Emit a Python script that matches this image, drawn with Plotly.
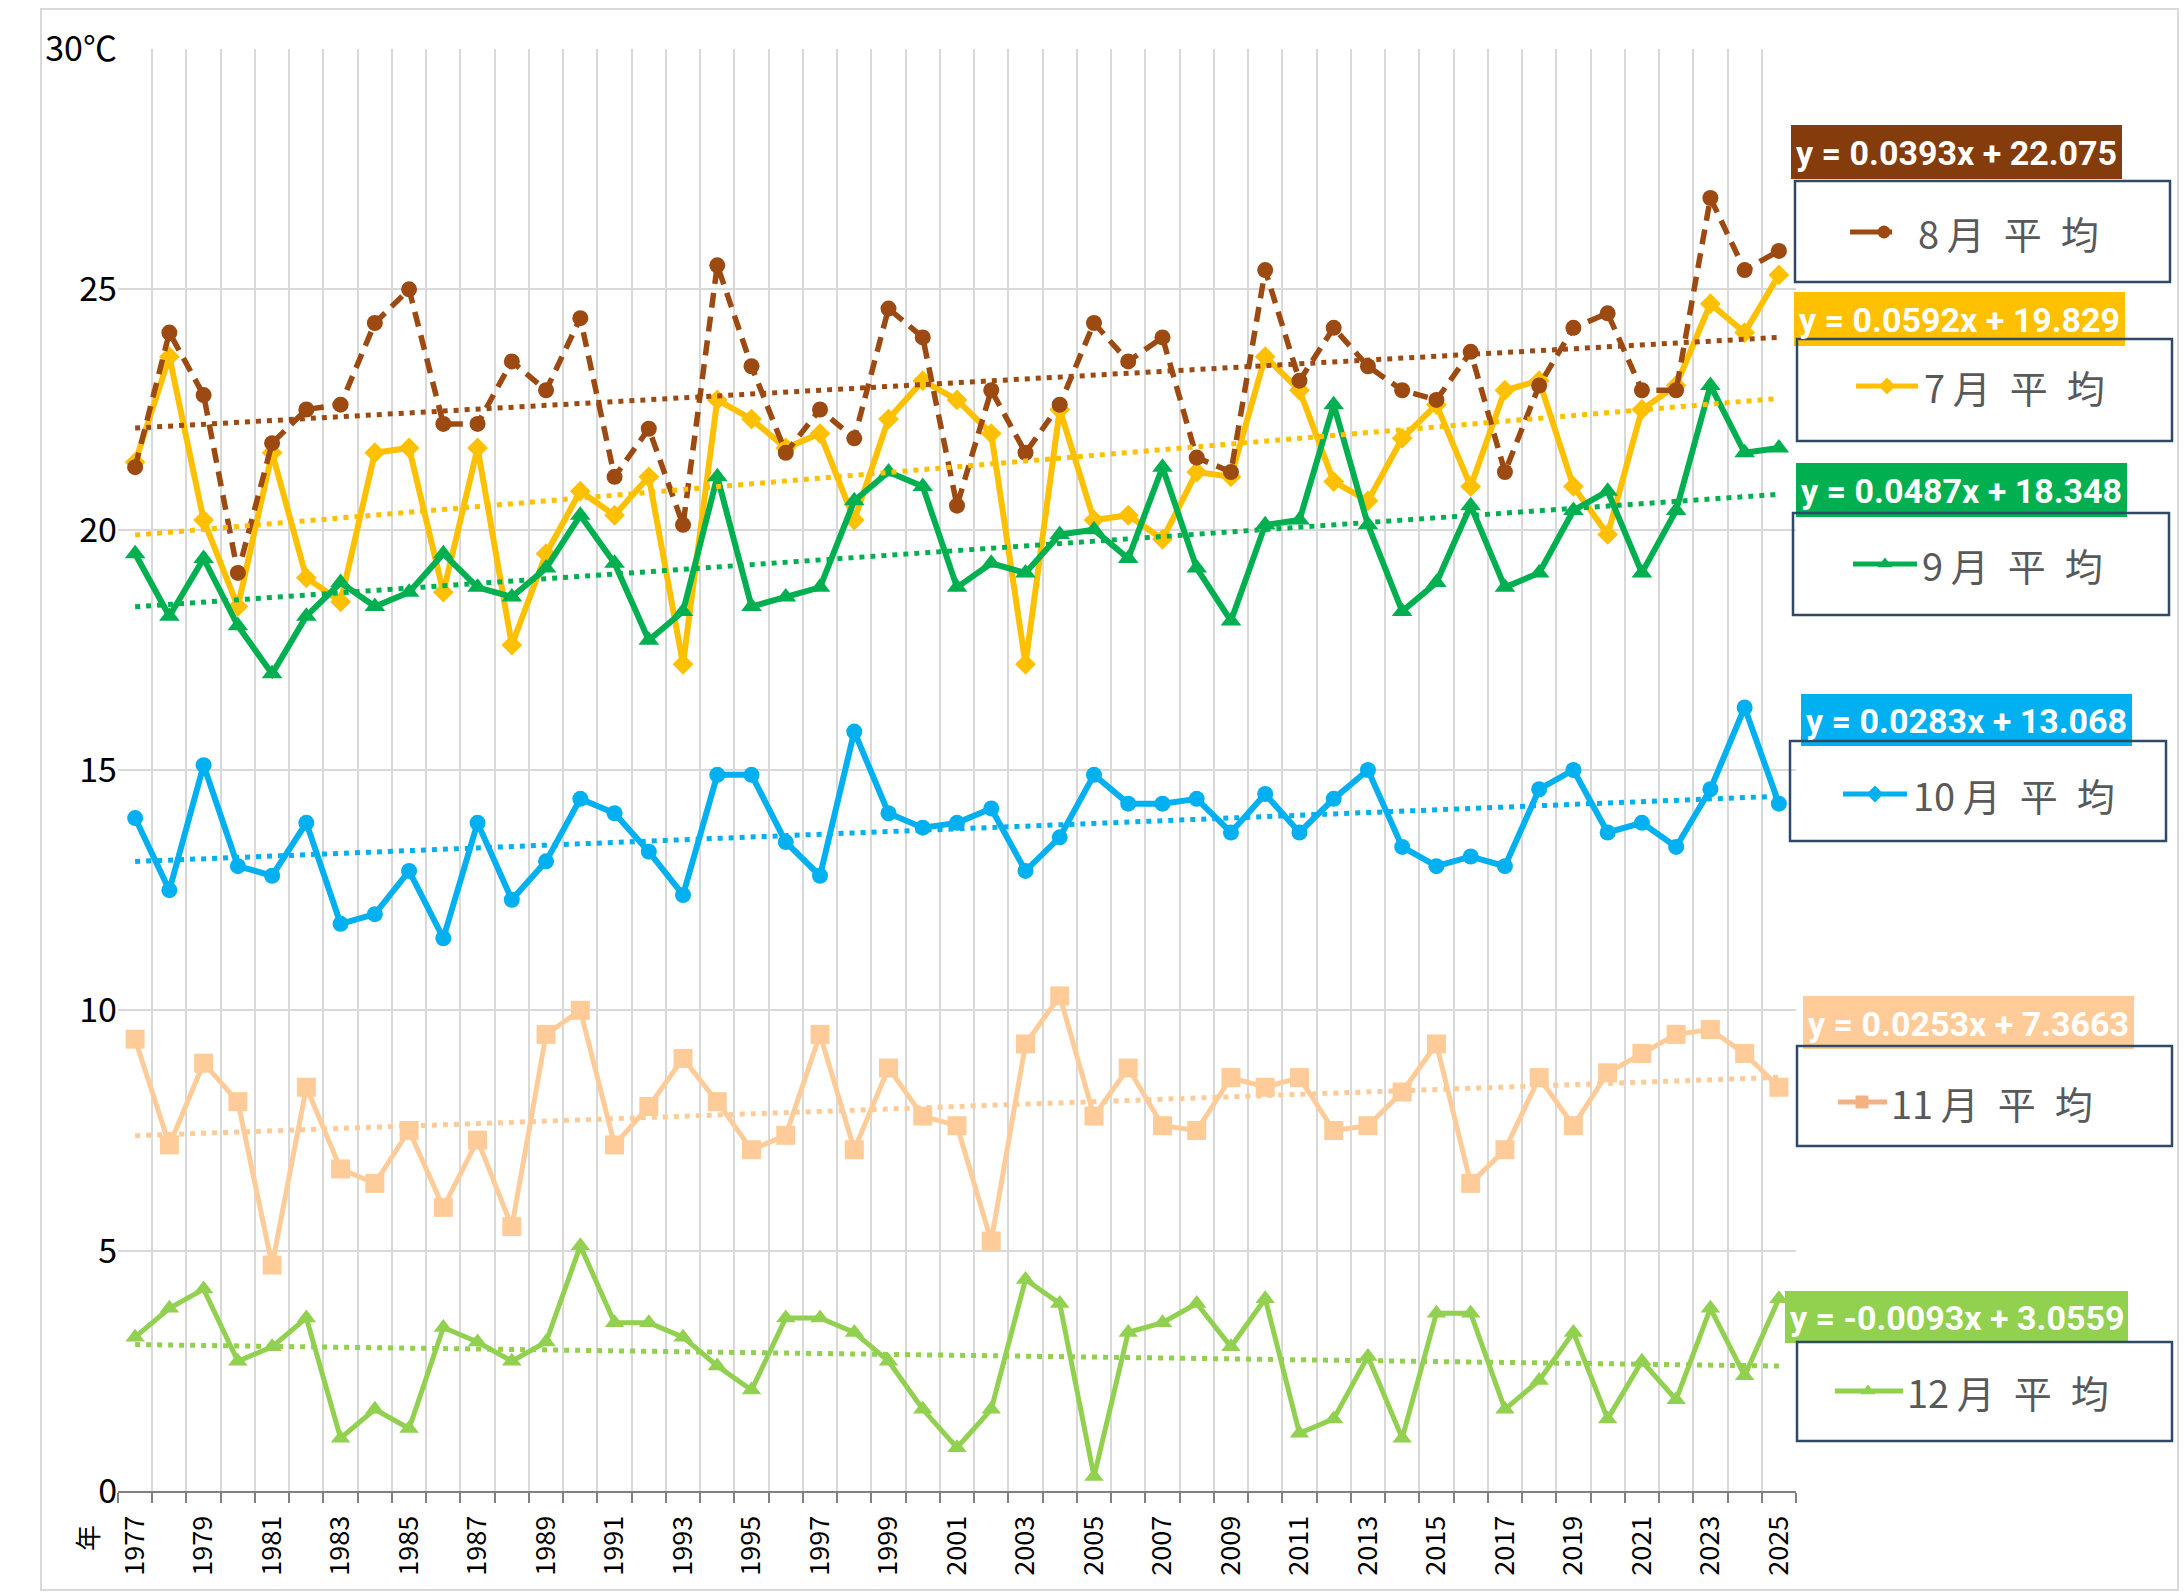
import plotly.graph_objects as go

W, H = 2183, 1596

# ---------------- data ----------------
years = list(range(1977, 2026))
year_labels = [str(y) for y in range(1977, 2026, 2)]

aug = [21.3, 24.1, 22.8, 19.1, 21.8, 22.5, 22.6, 24.3, 25.0, 22.2, 22.2, 23.5, 22.9, 24.4, 21.1, 22.1, 20.1, 25.5,
       23.4, 21.6, 22.5, 21.9, 24.6, 24.0, 20.5, 22.9, 21.6, 22.6, 24.3, 23.5, 24.0, 21.5, 21.2, 25.4, 23.1,
       24.2, 23.4, 22.9, 22.7, 23.7, 21.2, 23.0, 24.2, 24.5, 22.9, 22.9, 26.9, 25.4, 25.8]
jul = [21.4, 23.6, 20.2, 18.4, 21.6, 19.0, 18.5, 21.6, 21.7, 18.7, 21.7, 17.6, 19.5, 20.8, 20.3, 21.1, 17.2, 22.7,
       22.3, 21.7, 22.0, 20.2, 22.3, 23.1, 22.7, 22.0, 17.2, 22.5, 20.2, 20.3, 19.8, 21.2, 21.1, 23.6, 22.9,
       21.0, 20.6, 21.9, 22.6, 20.9, 22.9, 23.1, 20.9, 19.9, 22.5, 23.0, 24.7, 24.1, 25.3]
sep = [19.5, 18.2, 19.4, 18.0, 17.0, 18.2, 18.9, 18.4, 18.7, 19.5, 18.8, 18.6, 19.2, 20.3, 19.3, 17.7, 18.3, 21.1,
       18.4, 18.6, 18.8, 20.6, 21.2, 20.9, 18.8, 19.3, 19.1, 19.9, 20.0, 19.4, 21.3, 19.2, 18.1, 20.1, 20.2,
       22.6, 20.1, 18.3, 18.9, 20.5, 18.8, 19.1, 20.4, 20.8, 19.1, 20.4, 23.0, 21.6, 21.7]
oct_ = [14.0, 12.5, 15.1, 13.0, 12.8, 13.9, 11.8, 12.0, 12.9, 11.5, 13.9, 12.3, 13.1, 14.4, 14.1, 13.3, 12.4, 14.9,
        14.9, 13.5, 12.8, 15.8, 14.1, 13.8, 13.9, 14.2, 12.9, 13.6, 14.9, 14.3, 14.3, 14.4, 13.7, 14.5, 13.7,
        14.4, 15.0, 13.4, 13.0, 13.2, 13.0, 14.6, 15.0, 13.7, 13.9, 13.4, 14.6, 16.3, 14.3]
nov = [9.4, 7.2, 8.9, 8.1, 4.7, 8.4, 6.7, 6.4, 7.5, 5.9, 7.3, 5.5, 9.5, 10.0, 7.2, 8.0, 9.0, 8.1,
       7.1, 7.4, 9.5, 7.1, 8.8, 7.8, 7.6, 5.2, 9.3, 10.3, 7.8, 8.8, 7.6, 7.5, 8.6, 8.4, 8.6,
       7.5, 7.6, 8.3, 9.3, 6.4, 7.1, 8.6, 7.6, 8.7, 9.1, 9.5, 9.6, 9.1, 8.4]
dec = [3.2, 3.8, 4.2, 2.7, 3.0, 3.6, 1.1, 1.7, 1.3, 3.4, 3.1, 2.7, 3.1, 5.1, 3.5, 3.5, 3.2, 2.6,
       2.1, 3.6, 3.6, 3.3, 2.7, 1.7, 0.9, 1.7, 4.4, 3.9, 0.3, 3.3, 3.5, 3.9, 3.0, 4.0, 1.2,
       1.5, 2.8, 1.1, 3.7, 3.7, 1.7, 2.3, 3.3, 1.5, 2.7, 1.9, 3.8, 2.4, 4.0]

series_names = ["8月平均", "7月平均", "9月平均", "10月平均", "11月平均", "12月平均"]
trend_slopes = [0.0393, 0.0592, 0.0487, 0.0283, 0.0253, -0.0093]
trend_intercepts = [22.075, 19.829, 18.348, 13.068, 7.3663, 3.0559]
trend_labels = ["y = 0.0393x + 22.075", "y = 0.0592x + 19.829", "y = 0.0487x + 18.348",
                "y = 0.0283x + 13.068", "y = 0.0253x + 7.3663", "y = -0.0093x + 3.0559"]

y_tickvals = [0, 5, 10, 15, 20, 25, 30]
y_ticktext = ["0", "5", "10", "15", "20", "25", "30℃"]

# ---------------- styles ----------------
values = [aug, jul, sep, oct_, nov, dec]
colors = ["#9C4A12", "#FFC000", "#00B050", "#00B0F0", "#FFCC99", "#92D050"]
symbols = ["circle", "diamond", "triangle-up", "circle", "square", "triangle-up"]
msizes = [16, 16, 18, 16, 19, 17]
lwidths = [5.5, 6, 6, 6, 5, 5]
dashes = ["15px,9px", "solid", "solid", "solid", "solid", "solid"]
eq_bg = ["#843C0C", "#FFC000", "#00B050", "#00B0F0", "#FFCC99", "#92D050"]
legend_marker_colors = ["#9C4A12", "#FFC000", "#00B050", "#00B0F0", "#F4B183", "#92D050"]

fig = go.Figure()

draw_order = [1, 2, 0, 3, 4, 5]
for i in draw_order:
    fig.add_trace(go.Scatter(
        x=years, y=values[i], mode="lines+markers", name=series_names[i],
        line=dict(color=colors[i], width=lwidths[i], dash=dashes[i]),
        marker=dict(symbol=symbols[i], size=msizes[i], color=colors[i], line=dict(width=0)),
        showlegend=False, xaxis="x", yaxis="y"))

for i in draw_order:
    tx = [years[0], years[-1]]
    ty = [trend_slopes[i] * (t - years[0] + 1) + trend_intercepts[i] for t in tx]
    fig.add_trace(go.Scatter(
        x=tx, y=ty, mode="lines", line=dict(color=colors[i], width=5, dash="5px,6px"),
        showlegend=False, hoverinfo="skip", xaxis="x", yaxis="y"))

# ---------------- custom legend (pixel coordinates on overlay axes) ----------------
eq_boxes = [(1791, 125, 2122, 179), (1794, 292, 2125, 346), (1796, 463, 2127, 517),
            (1801, 694, 2132, 746), (1803, 996, 2134, 1049), (1785, 1291, 2128, 1343)]
leg_boxes = [(1795, 181, 2170, 282), (1797, 339, 2172, 441), (1793, 513, 2169, 615),
             (1790, 741, 2166, 841), (1797, 1046, 2172, 1146), (1797, 1342, 2172, 1441)]
leg_lines = [(1850, 1892, 1884, 232), (1856, 1918, 1887, 386), (1853, 1917, 1885, 564),
             (1843, 1907, 1875, 794), (1838, 1887, 1862, 1102), (1835, 1903, 1868, 1391)]
leg_text_x = [1916, 1922, 1920, 1911, 1889, 1905]
leg_text = ["8\u2009月\u2002平\u2002均", "7\u2009月\u2002平\u2002均", "9\u2009月\u2002平\u2002均",
            "10\u2009月\u2002平\u2002均", "11\u2009月\u2002平\u2002均", "12\u2009月\u2002平\u2002均"]
leg_symbols = ["circle", "diamond", "triangle-up", "diamond", "square", "triangle-up"]

shapes = []
annotations = []
# outer chart border
shapes.append(dict(type="rect", xref="x2", yref="y2", x0=41, y0=9, x1=2178, y1=1590,
                   line=dict(color="#D9D9D9", width=2), fillcolor="rgba(0,0,0,0)", layer="below"))

for i in range(6):
    x0, y0, x1, y1 = eq_boxes[i]
    shapes.append(dict(type="rect", xref="x2", yref="y2", x0=x0, y0=y0, x1=x1, y1=y1,
                       line=dict(width=0), fillcolor=eq_bg[i], layer="above"))
    annotations.append(dict(xref="x2", yref="y2", x=(x0 + x1) / 2, y=(y0 + y1) / 2 + 1,
                            text="<b>" + trend_labels[i] + "</b>", showarrow=False,
                            font=dict(family="Roboto", size=34, color="white"),
                            xanchor="center", yanchor="middle"))
for i in range(6):
    x0, y0, x1, y1 = leg_boxes[i]
    shapes.append(dict(type="rect", xref="x2", yref="y2", x0=x0, y0=y0, x1=x1, y1=y1,
                       line=dict(color="#2E4A66", width=2.5), fillcolor="rgba(0,0,0,0)", layer="above"))
    lx0, lx1, lxm, ly = leg_lines[i]
    shapes.append(dict(type="line", xref="x2", yref="y2", x0=lx0, y0=ly, x1=lx1, y1=ly,
                       line=dict(color=legend_marker_colors[i], width=5), layer="above"))
    annotations.append(dict(xref="x2", yref="y2", x=leg_text_x[i], y=ly, text=leg_text[i],
                            showarrow=False, xanchor="left", yanchor="middle",
                            font=dict(family="Noto Sans CJK JP", size=38, color="#595959")))

fig.add_trace(go.Scatter(
    x=[l[2] for l in leg_lines], y=[l[3] for l in leg_lines], mode="markers",
    marker=dict(symbol=leg_symbols, size=13, color=legend_marker_colors, line=dict(width=0)),
    showlegend=False, hoverinfo="skip", xaxis="x2", yaxis="y2", cliponaxis=False))

# year unit label
annotations.append(dict(xref="x2", yref="y2", x=86, y=1538, text="年", textangle=-90,
                        showarrow=False, font=dict(family="Noto Sans CJK JP", size=26, color="#000000"),
                        xanchor="center", yanchor="middle"))

# ---------------- layout ----------------
x_left, x_right, y_top, y_bottom = 118, 1796, 49, 1491

fig.update_layout(
    width=W, height=H, template="none",
    margin=dict(l=0, r=0, t=0, b=0, autoexpand=False),
    paper_bgcolor="white", plot_bgcolor="rgba(0,0,0,0)",
    showlegend=False,
    xaxis=dict(
        domain=[x_left / W, x_right / W], range=[years[0] - 0.5, years[-1] + 0.5],
        tickmode="array", tickvals=list(range(1977, 2026, 2)), ticktext=year_labels,
        tickangle=-90, ticks="outside", ticklen=12, tickcolor="rgba(0,0,0,0)",
        showgrid=False, zeroline=False, automargin=False,
        showline=True, linecolor="#808080", linewidth=2,
        tickfont=dict(family="Noto Sans CJK JP", size=27, color="#000000"),
        minor=dict(tickmode="array", tickvals=[y - 0.5 for y in years] + [years[-1] + 0.5],
                   ticks="outside", ticklen=10, tickwidth=2, tickcolor="#808080",
                   showgrid=True, gridcolor="#D9D9D9", gridwidth=2),
        anchor="y"),
    yaxis=dict(
        domain=[1 - y_bottom / H, 1 - y_top / H], range=[0, 30],
        tickmode="array", tickvals=y_tickvals, ticktext=y_ticktext,
        showgrid=True, gridcolor="#D9D9D9", gridwidth=2, zeroline=False,
        showline=False, ticks="", automargin=False,
        tickfont=dict(family="Noto Sans CJK JP", size=34, color="#000000"),
        anchor="x"),
    xaxis2=dict(domain=[0, 1], range=[0, W], visible=False, anchor="y2", fixedrange=True),
    yaxis2=dict(domain=[0, 1], range=[H, 0], visible=False, anchor="x2", fixedrange=True),
    shapes=shapes, annotations=annotations,
)

fig.write_html("out.html", config={"displayModeBar": False},
               post_script="document.body.style.margin='0px';document.body.style.overflow='hidden';")
